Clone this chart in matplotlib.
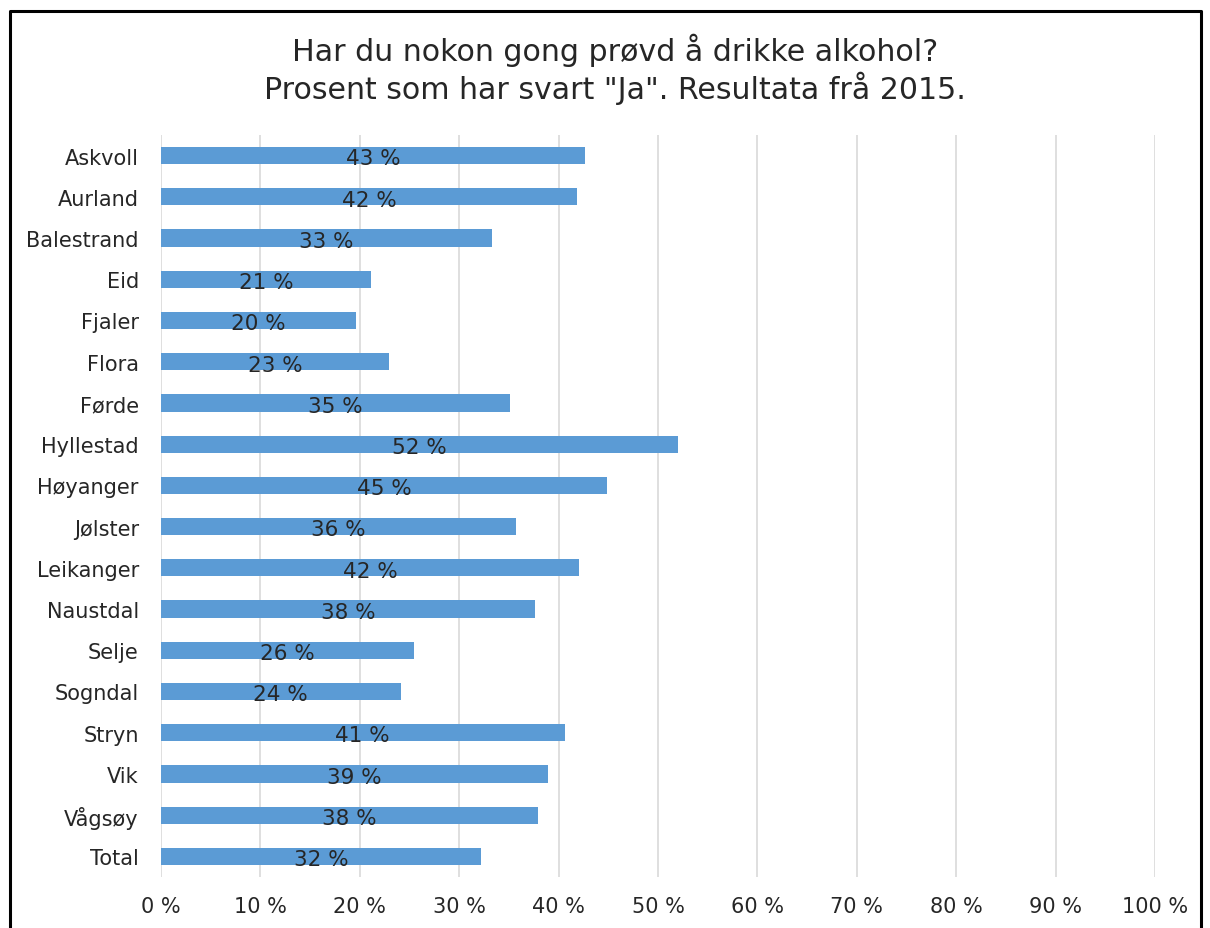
import matplotlib.pyplot as plt
from matplotlib.lines import Line2D

kommunar = ["Askvoll", "Aurland", "Balestrand", "Eid", "Fjaler", "Flora", "Førde",
            "Hyllestad", "Høyanger", "Jølster", "Leikanger", "Naustdal", "Selje",
            "Sogndal", "Stryn", "Vik", "Vågsøy", "Total"]
prosent = [42.7, 41.9, 33.3, 21.1, 19.6, 22.9, 35.1, 52.0, 44.9, 35.7, 42.1, 37.6,
           25.5, 24.1, 40.6, 38.9, 37.9, 32.2]
xticks = list(range(0, 101, 10))
xticklabels = [f"{t} %" for t in xticks]

bar_color = "#5B9BD5"
text_color = "#262626"

fig = plt.figure(figsize=(12.1, 9.29), dpi=100)
ax = fig.add_axes([161 / 1210, 1 - 878 / 929, (1155 - 161) / 1210, (878 - 136) / 929])

ypos = list(range(len(kommunar)))
ax.barh(ypos, prosent, height=0.42, color=bar_color, zorder=3)
for y, v in zip(ypos, prosent):
    ax.annotate(f"{round(v)} %", (v / 2, y), xytext=(0, -2), textcoords="offset points",
                ha="center", va="center", fontsize=15.5, color=text_color, zorder=4)

ax.set_xlim(0, 100)
ax.set_ylim(len(kommunar) - 0.5, -0.5)
ax.set_yticks(ypos)
ax.set_yticklabels(kommunar, fontsize=15, color=text_color)
ax.set_xticks(xticks)
ax.set_xticklabels(xticklabels, fontsize=15, color=text_color)
ax.tick_params(axis="y", length=0, pad=16)
ax.tick_params(axis="x", length=0, pad=14)
ax.grid(axis="x", color="#D9D9D9", linewidth=1.2, zorder=0)
for s in ax.spines.values():
    s.set_visible(False)

fig.text(615 / 1210, 1 - 50 / 929, "Har du nokon gong prøvd å drikke alkohol?", ha="center",
         va="center", fontsize=21.6, color=text_color)
fig.text(615 / 1210, 1 - 88 / 929, 'Prosent som har svart "Ja". Resultata frå 2015.', ha="center",
         va="center", fontsize=21.6, color=text_color)

# border round the chart (bottom edge is cut off in the original)
x0, x1, y1 = 9.5 / 1210, 1201 / 1210, 1 - 11.5 / 929
fig.add_artist(Line2D([x0, x0, x1, x1], [0, y1, y1, 0], transform=fig.transFigure,
                      color="black", linewidth=2.2))

fig.savefig("out.png", dpi=100)
